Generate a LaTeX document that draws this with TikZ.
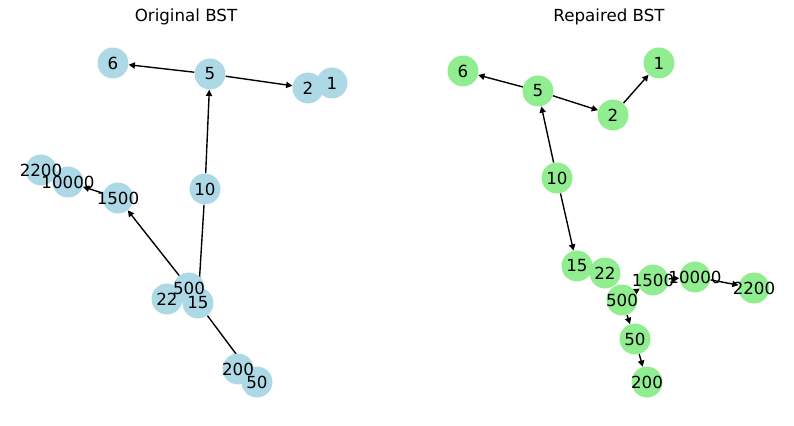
\documentclass[tikz,border=0pt]{standalone}
\usepackage{fontspec}
\setmainfont{DejaVu Sans}
\usetikzlibrary{arrows.meta}
\definecolor{lblue}{HTML}{ADD8E6}
\definecolor{lgreen}{HTML}{90EE90}
\pgfdeclarelayer{edges}
\pgfdeclarelayer{labels}
\pgfsetlayers{edges,main,labels}
\tikzset{
  vert/.style={circle, minimum size=22.3pt, inner sep=0pt},
  blue/.style={vert, fill=lblue},
  green/.style={vert, fill=lgreen},
  lbl/.style={font=\fontsize{12pt}{14pt}\selectfont, inner sep=0pt},
  conn/.style={line width=1pt, black},
  arr/.style={conn, -{Triangle[length=4.5pt,width=4.5pt]}},
  ttl/.style={font=\fontsize{12pt}{14pt}\selectfont}
}
% circle node plus a label kept above every circle
\newcommand{\bstvert}[5]{%
  \node[#5] (#1) at (#2,#3) {};
  \begin{pgfonlayer}{labels}\node[lbl] at (#1) {#4};\end{pgfonlayer}}
\begin{document}
\begin{tikzpicture}[x=0.72pt, y=-0.72pt]
\useasboundingbox (0,0) rectangle (794,425);
% titles
\node[ttl] (t1) at (186,17) {Original BST};
\node[ttl] (t2) at (609,17) {Repaired BST};
% original tree
\bstvert{a6}{113}{63}{6}{blue}
\bstvert{a5}{210}{74}{5}{blue}
\bstvert{a2}{308}{88}{2}{blue}
\bstvert{a1}{332}{83}{1}{blue}
\bstvert{a10}{205}{189}{10}{blue}
\bstvert{a2200}{41}{170}{2200}{blue}
\bstvert{a10000}{68}{182}{10000}{blue}
\bstvert{a1500}{118}{198}{1500}{blue}
\bstvert{a22}{167}{299}{22}{blue}
\bstvert{a500}{189}{288}{500}{blue}
\bstvert{a15}{198}{303}{15}{blue}
\bstvert{a200}{238}{369}{200}{blue}
\bstvert{a50}{257}{382}{50}{blue}
\begin{pgfonlayer}{edges}
\draw[arr] (a5) -- (a6);
\draw[arr] (a5) -- (a2);
\draw[arr] (a10) -- (a5);
\draw[conn] (a10) -- (a15);
\draw[arr] (a500) -- (a1500);
\draw[arr] (a1500) -- (a10000);
\draw[conn] (a15) -- (a50);
\end{pgfonlayer}
% repaired tree
\bstvert{b6}{463}{71}{6}{green}
\bstvert{b5}{538}{91}{5}{green}
\bstvert{b2}{613}{115}{2}{green}
\bstvert{b1}{659}{63}{1}{green}
\bstvert{b10}{557}{178}{10}{green}
\bstvert{b15}{577}{266}{15}{green}
\bstvert{b22}{605}{273}{22}{green}
\bstvert{b1500}{653}{280}{1500}{green}
\bstvert{b10000}{695}{277}{10000}{green}
\bstvert{b2200}{754}{288}{2200}{green}
\bstvert{b500}{622}{300}{500}{green}
\bstvert{b50}{635}{339}{50}{green}
\bstvert{b200}{647}{382}{200}{green}
\begin{pgfonlayer}{edges}
\draw[arr] (b5) -- (b6);
\draw[arr] (b5) -- (b2);
\draw[arr] (b2) -- (b1);
\draw[arr] (b10) -- (b5);
\draw[arr] (b10) -- (b15);
\draw[arr] (b500) -- (b1500);
\draw[arr] (b1500) -- (b10000);
\draw[arr] (b10000) -- (b2200);
\draw[arr] (b500) -- (b50);
\draw[arr] (b50) -- (b200);
\end{pgfonlayer}
\end{tikzpicture}
\end{document}
